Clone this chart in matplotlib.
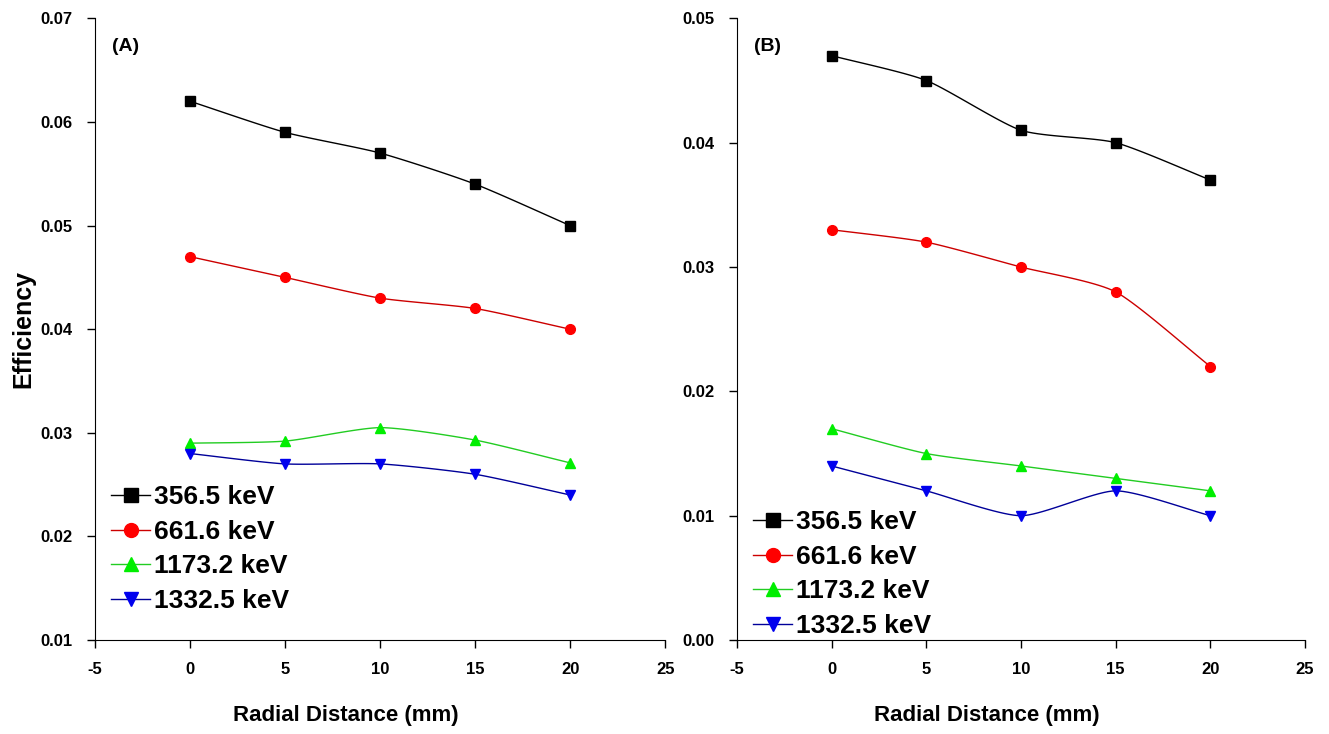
import numpy as np
import matplotlib
matplotlib.use("Agg")
import matplotlib.pyplot as plt

plt.rcParams['font.family'] = ['Liberation Sans', 'DejaVu Sans']
plt.rcParams['font.weight'] = 'bold'
plt.rcParams['axes.unicode_minus'] = False

# Data
distance = [0, 5, 10, 15, 20]
labels = ["356.5 keV", "661.6 keV", "1173.2 keV", "1332.5 keV"]
colors = ["#000000", "#ff0000", "#00ee00", "#0000ee"]
line_colors = ["#000000", "#cc0000", "#22cc22", "#000099"]
markers = ["s", "o", "^", "v"]

eff_a_356 = [0.062, 0.059, 0.057, 0.054, 0.050]
eff_a_661 = [0.047, 0.045, 0.043, 0.042, 0.040]
eff_a_1173 = [0.029, 0.0292, 0.0305, 0.0293, 0.0271]
eff_a_1332 = [0.028, 0.027, 0.027, 0.026, 0.024]

eff_b_356 = [0.047, 0.045, 0.041, 0.040, 0.037]
eff_b_661 = [0.033, 0.032, 0.030, 0.028, 0.022]
eff_b_1173 = [0.017, 0.015, 0.014, 0.013, 0.012]
eff_b_1332 = [0.014, 0.012, 0.010, 0.012, 0.010]


def smooth(x, y, n=20, tension=0.35):
    # Cardinal spline through the points, for the connecting line only
    x = np.asarray(x, float)
    y = np.asarray(y, float)
    px = np.concatenate([[2 * x[0] - x[1]], x, [2 * x[-1] - x[-2]]])
    py = np.concatenate([[2 * y[0] - y[1]], y, [2 * y[-1] - y[-2]]])
    xs, ys = [], []
    t = np.linspace(0, 1, n)
    h00 = 2 * t ** 3 - 3 * t ** 2 + 1
    h10 = t ** 3 - 2 * t ** 2 + t
    h01 = -2 * t ** 3 + 3 * t ** 2
    h11 = t ** 3 - t ** 2
    s = (1 - tension) / 2
    for i in range(1, len(px) - 2):
        for p, out in ((px, xs), (py, ys)):
            m1 = s * (p[i + 1] - p[i - 1])
            m2 = s * (p[i + 2] - p[i])
            out.extend(h00 * p[i] + h10 * m1 + h01 * p[i + 1] + h11 * m2)
    return xs, ys


fig = plt.figure(figsize=(13.29, 7.34), dpi=100)
ax_a = fig.add_axes([0.0715, 0.128, 0.429, 0.847])
ax_b = fig.add_axes([0.5545, 0.128, 0.4275, 0.847])

panels = [
    (ax_a, [eff_a_356, eff_a_661, eff_a_1173, eff_a_1332], (0.01, 0.07),
     np.arange(0.01, 0.0701, 0.01), "(A)", 0.018),
    (ax_b, [eff_b_356, eff_b_661, eff_b_1173, eff_b_1332], (0.0, 0.05),
     np.arange(0.0, 0.0501, 0.01), "(B)", -0.022),
]

for ax, series, ylim, yticks, tag, leg_y in panels:
    for vals, lab, c, lc, m in zip(series, labels, colors, line_colors, markers):
        sx, sy = smooth(distance, vals)
        ax.plot(sx, sy, color=lc, lw=1.0)
        ax.plot(distance, vals, linestyle='none', marker=m, color=c, markersize=7)
        ax.plot([], [], color=lc, lw=1.0, marker=m, markerfacecolor=c,
                markeredgecolor=c, markersize=10, label=lab)
    ax.set_xlim(-5, 25)
    ax.set_ylim(*ylim)
    ax.set_xticks([-5, 0, 5, 10, 15, 20, 25])
    ax.set_yticks(yticks)
    ax.yaxis.set_major_formatter(plt.FormatStrFormatter('%.2f'))
    ax.spines['top'].set_visible(False)
    ax.spines['right'].set_visible(False)
    ax.tick_params(direction='out', length=6, width=1, labelsize=12, pad=10)
    for lbl in ax.get_xticklabels() + ax.get_yticklabels():
        lbl.set_fontweight('bold')
    ax.set_xlabel("Radial Distance (mm)", fontsize=16, fontweight='bold')
    ax.xaxis.set_label_coords(0.44, -0.105)
    ax.text(0.03, 0.955, tag, transform=ax.transAxes, fontsize=14, fontweight='bold', va='center')
    ax.legend(loc='lower left', bbox_to_anchor=(0.0, leg_y), frameon=False,
              prop={'size': 19, 'weight': 'bold'},
              handlelength=1.5, handletextpad=0.15, labelspacing=0.4, borderaxespad=0.2)

ax_a.set_ylabel("Efficiency", fontsize=18, fontweight='bold')
ax_a.yaxis.set_label_coords(-0.105, 0.5)

fig.savefig("out.png", dpi=100)
